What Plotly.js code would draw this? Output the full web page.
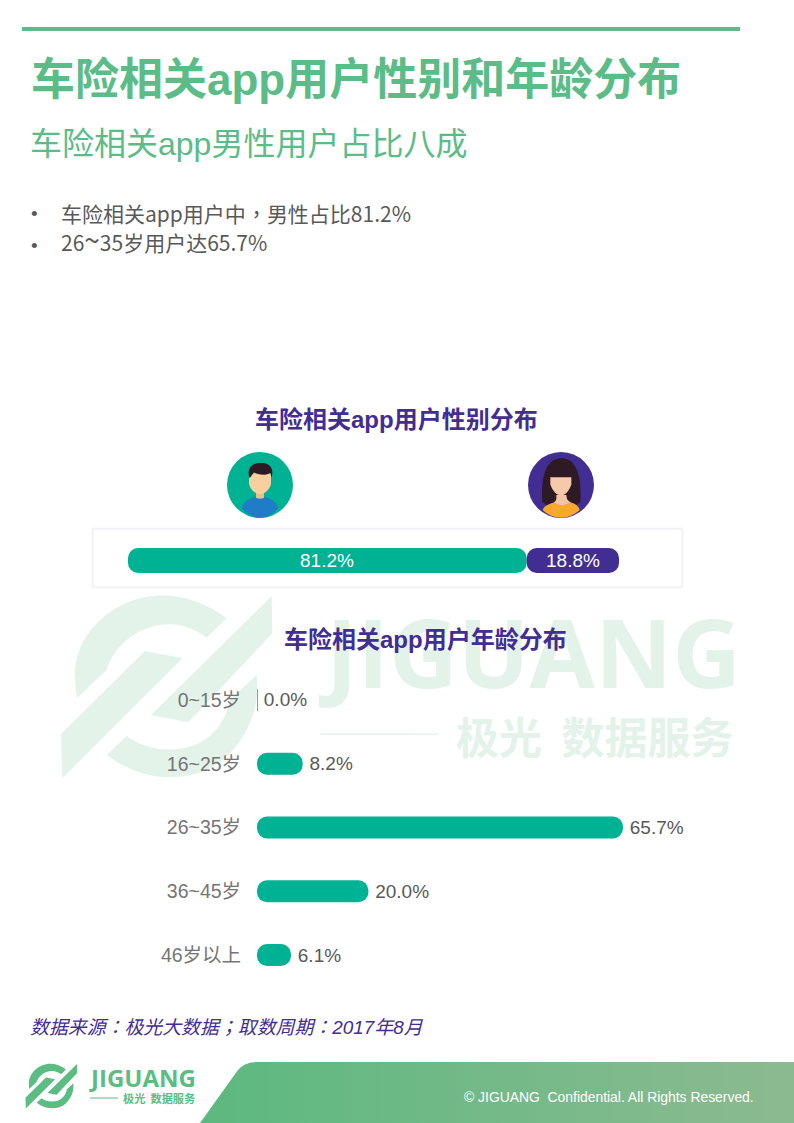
<!DOCTYPE html>
<html>
<head>
<meta charset="utf-8">
<script src="https://cdn.plot.ly/plotly-3.0.1.min.js"></script>
<style>html,body{margin:0;padding:0;background:#fff}#c{width:794px;height:1123px}</style>
</head>
<body>
<div id="c"></div>
<script>
var genderLabels = ['男性', '女性'];
var genderShare = [81.2, 18.8];
var ageLabels = ['0~15岁', '16~25岁', '26~35岁', '36~45岁', '46岁以上'];
var ageShare = [0.0, 8.2, 65.7, 20.0, 6.1];

var W = 794, H = 1123;
var FONT = '"Liberation Sans","Noto Sans CJK SC",sans-serif';
var CJK = '"Noto Sans CJK SC",sans-serif';
var GREEN = '#5bbc87', TEAL = '#00b294', PURPLE = '#422d92', WM = '#e3f3ea';
var BADGE = '#5bbd83';

function tx(d, ox, oy, s) {
  return d.replace(/(-?[\d.]+),(-?[\d.]+)/g, function (m, a, b) {
    return ((ox + a * s) / W) + ',' + (1 - (oy + b * s) / H);
  });
}
function pathShape(d, color, ox, oy, s, layer) {
  return {type: 'path', xref: 'paper', yref: 'paper', path: tx(d, ox, oy, s), fillcolor: color,
          line: {width: 0}, layer: layer || 'below'};
}
function circle(cx, cy, r, color) {
  return {type: 'circle', xref: 'paper', yref: 'paper', x0: (cx - r) / W, x1: (cx + r) / W,
          y0: 1 - (cy + r) / H, y1: 1 - (cy - r) / H, fillcolor: color, line: {width: 0}, layer: 'below'};
}
function rect(x0, y0, x1, y1, color, lineColor) {
  return {type: 'rect', xref: 'paper', yref: 'paper', x0: x0 / W, x1: x1 / W, y0: 1 - y1 / H, y1: 1 - y0 / H,
          fillcolor: color, line: lineColor ? {width: 1, color: lineColor} : {width: 0}, layer: 'below'};
}
function note(text, x, y, size, color, anchor, family) {
  return {text: text, xref: 'paper', yref: 'paper', x: x / W, y: 1 - y / H, xanchor: anchor || 'left', yanchor: 'middle',
          showarrow: false, borderpad: 0, borderwidth: 0, font: {size: size, color: color, family: family || FONT}};
}
function tc(s) { return '<span style="font-family:Noto Sans CJK TC">' + s + '</span>'; }

var logoParts = [
  'M18,432 L270,183 L383,205 L22,565 Z',
  'M650,18 L652,130 L400,397 L288,375 Z',
  'M515,85 C440,28 350,5 270,22 C130,50 50,170 60,270 L65,325 L155,240 C175,170 250,105 340,103 C385,102 425,122 455,143 Z',
  'M605,255 C615,340 590,430 510,505 C430,575 280,590 155,495 L215,438 C270,480 350,490 420,465 C480,440 515,385 525,330 Z'
];
function logo(ox, oy, s, color) {
  return logoParts.map(function (d) { return pathShape(d, color, ox, oy, s); });
}

var avatarM = [
  circle(260, 485, 33, TEAL),
  pathShape('M65,190 C70,168 90,160 108,156 L132,156 C150,160 170,168 175,190 C160,208 140,218 120,218 C100,218 80,208 65,190 Z', '#1f7cc6', 220, 445, 1 / 3),
  pathShape('M108,130 L132,130 L132,158 C125,162 115,162 108,158 Z', '#efbd8c', 220, 445, 1 / 3),
  pathShape('M87,85 L153,85 L153,115 C150,135 132,148 120,148 C108,148 90,135 87,115 Z', '#f8cf9f', 220, 445, 1 / 3),
  pathShape('M89,100 C78,70 98,54 120,54 C142,52 164,62 155,98 L151,84 C135,94 112,88 102,82 C98,88 93,94 89,100 Z', '#2d1a24', 220, 445, 1 / 3)
];
var avatarF = [
  circle(561, 485, 33, PURPLE),
  pathShape('M64,172 C60,110 68,40 122,40 C172,40 182,110 178,172 C150,195 95,195 64,172 Z', '#2d1a24', 521, 445, 1 / 3),
  pathShape('M65,195 C70,180 90,176 100,172 C115,182 130,182 148,172 C160,176 172,180 176,195 C160,210 140,218 120,218 C100,218 80,210 65,195 Z', '#f7a92c', 521, 445, 1 / 3),
  pathShape('M106,150 L136,150 L138,162 C142,168 146,170 150,172 C130,184 115,184 98,172 C102,170 104,168 106,162 Z', '#f2c3a4', 521, 445, 1 / 3),
  pathShape('M88,97 L151,97 L151,118 C145,140 130,152 120,152 C110,152 94,140 88,118 Z', '#f5c9aa', 521, 445, 1 / 3)
];

var shapes = [rect(22, 27, 740, 31, GREEN)]
  .concat(logo(55, 590, 1 / 3, WM))
  .concat([rect(320, 733.5, 438, 735, WM)])
  .concat([rect(92, 528, 683, 588, '#ffffff', '#f6f6f6'), rect(93, 529, 682, 587, '#ffffff', '#e9ebed')])
  .concat(avatarM).concat(avatarF)
  .concat(logo(24, 1062.5, 0.0815, BADGE))
  .concat([rect(90, 1097.5, 118, 1098.5, BADGE)]);

function pct(v) { return v.toFixed(1) + '%'; }

var annotations = [
  note('<b>JIGUANG</b>', 318, 651, 95, WM, 'left', '"Open Sans",sans-serif'),
  note('<b>极光\u00a0\u00a0数据服务</b>', 456, 735, 43, WM, 'left', CJK),
  note('<b>车险相关app用户性别和年龄分布</b>', 31, 80, 44, GREEN),
  note('车险相关app男性用户占比八成', 30, 144, 32, GREEN),
  note('•', 31, 214, 19, '#595959'),
  note('车险相关app用户中' + tc('，') + '男性占比81.2%', 61, 212.5, 21, '#595959', 'left', CJK),
  note('•', 31, 245, 19, '#595959'),
  note('26<span style="font-size:28px">~</span>35岁用户达65.7%', 61, 239.5, 21, '#595959', 'left', CJK),
  note('<b>车险相关app用户性别分布</b>', 396, 419, 24, PURPLE, 'center'),
  note('<b>车险相关app用户年龄分布</b>', 425, 639, 24, PURPLE, 'center'),
  note('<i>数据来源' + tc('：') + '极光大数据' + tc('；') + '取数周期' + tc('：') + '2017年8月</i>', 30, 1025, 18.9, PURPLE),
  note('© JIGUANG\u00a0\u00a0Confidential. All Rights Reserved.', 464, 1097, 13.9, '#ffffff'),
  note('<b>JIGUANG</b>', 89, 1077, 24, BADGE, 'left', '"Open Sans",sans-serif'),
  note('<b>极光\u00a0\u00a0数据服务</b>', 123, 1098, 11.2, BADGE, 'left', CJK),
  {text: pct(genderShare[0]), xref: 'x', yref: 'y', x: genderShare[0] / 2, y: 0, showarrow: false,
   font: {size: 19, color: '#fff', family: FONT}},
  {text: pct(genderShare[1]), xref: 'x', yref: 'y', x: genderShare[0] + genderShare[1] / 2, y: 0, showarrow: false,
   font: {size: 19, color: '#fff', family: FONT}}
];

var footerX = [200, 238, 241, 245, 250, 256, 794, 794, 200];
var footerY = [1123, 1070, 1067, 1064.5, 1062.7, 1062, 1062, 1123, 1123];

function genderBar(i, color) {
  return {type: 'bar', orientation: 'h', name: genderLabels[i], x: [genderShare[i]], y: [0],
          base: [i === 0 ? 0 : genderShare[0]], width: 1,
          marker: {color: color, cornerradius: 10, line: {width: 0}}, xaxis: 'x', yaxis: 'y', cliponaxis: false};
}

var traces = [
  {type: 'scatter', mode: 'none', x: footerX, y: footerY, xaxis: 'x3', yaxis: 'y3', fill: 'toself', hoverinfo: 'skip',
   fillgradient: {type: 'horizontal', colorscale: [[0, '#5cb97f'], [1, '#8cba90']]}},
  genderBar(0, TEAL),
  genderBar(1, PURPLE),
  {type: 'bar', orientation: 'h', x: ageShare, y: ageLabels, base: ageShare.map(function () { return 0; }), width: 22 / 63.75,
   marker: {color: TEAL, cornerradius: 10, line: {color: TEAL, width: ageShare.map(function (v) { return v === 0 ? 1 : 0; })}},
   text: ageShare.map(function (v) { return '\u2009' + pct(v); }), textposition: 'outside', textangle: 0, constraintext: 'none',
   textfont: {color: '#595959', size: 19, family: FONT}, xaxis: 'x2', yaxis: 'y2', cliponaxis: false}
];

var off = {showgrid: false, zeroline: false, showline: false, showticklabels: false, ticks: '', fixedrange: true};
var layout = {
  width: W, height: H, margin: {l: 0, r: 0, t: 0, b: 0, pad: 0}, showlegend: false,
  paper_bgcolor: '#fff', plot_bgcolor: 'rgba(0,0,0,0)', barmode: 'overlay', font: {family: FONT},
  xaxis: Object.assign({}, off, {domain: [128 / W, 619 / W], range: [0, 100], anchor: 'y'}),
  yaxis: Object.assign({}, off, {domain: [1 - 573 / H, 1 - 548 / H], range: [-0.5, 0.5], anchor: 'x'}),
  xaxis2: Object.assign({}, off, {domain: [257 / W, (257 + 80 * 5.57) / W], range: [0, 80], anchor: 'y2'}),
  yaxis2: {domain: [1 - 986.9 / H, 1 - 668.1 / H], type: 'category', categoryorder: 'array', categoryarray: ageLabels,
           autorange: 'reversed', anchor: 'x2', showgrid: false, zeroline: false, showline: false, fixedrange: true,
           ticks: 'outside', ticklen: 11, tickcolor: 'rgba(0,0,0,0)', tickfont: {size: 19.5, color: '#757575', family: FONT}, automargin: false},
  xaxis3: Object.assign({}, off, {domain: [0, 1], range: [0, W], anchor: 'y3', visible: false}),
  yaxis3: Object.assign({}, off, {domain: [0, 1], range: [H, 0], anchor: 'x3', visible: false}),
  shapes: shapes,
  annotations: annotations
};
Plotly.newPlot('c', traces, layout, {displayModeBar: false, staticPlot: true});
</script>
</body>
</html>
